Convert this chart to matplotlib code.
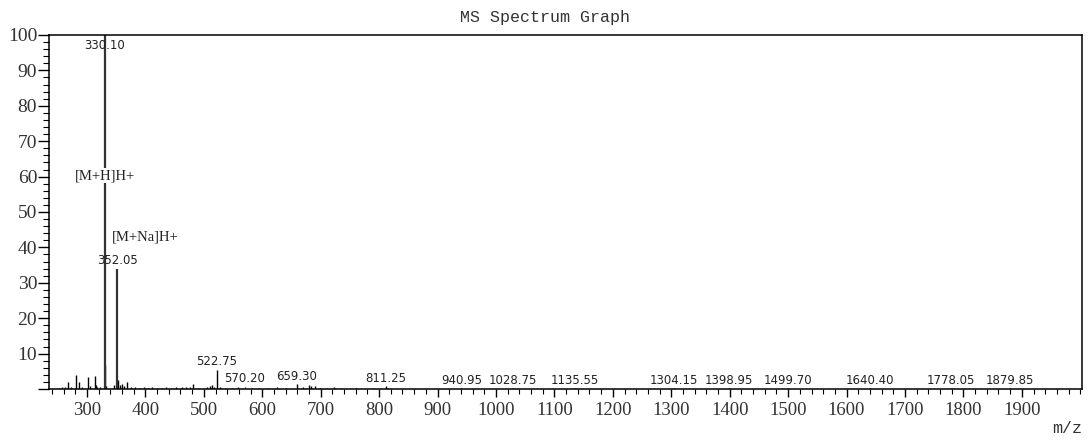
import matplotlib.pyplot as plt
from matplotlib.ticker import MultipleLocator

# main labelled peaks
label_mz = [330.10, 352.05, 522.75, 570.20, 659.30, 811.25, 940.95, 1028.75,
            1135.55, 1304.15, 1398.95, 1499.70, 1640.40, 1778.05, 1879.85]
label_int = [100, 34, 5.5, 0.6, 1.3, 0.8, 0.3, 0.3,
             0.3, 0.3, 0.3, 0.3, 0.3, 0.3, 0.3]

# unlabelled small peaks / noise
small_mz = [252, 258, 262, 267.5, 272, 281, 286, 292, 301, 306, 313, 316, 318, 322,
            331.1, 333, 347, 353.05, 356, 360, 364, 368.5, 375, 382, 390, 398, 405,
            412, 420, 428, 436, 445, 452, 462, 470, 476, 481, 490, 505, 510, 514,
            518, 528, 536, 548, 558, 582, 595, 610, 625, 640, 670, 680, 684, 690,
            698, 710, 722, 735, 760, 790, 815]
small_int = [0.4, 0.5, 0.6, 2.0, 0.6, 4.0, 2.0, 0.6, 3.4, 0.8, 3.7, 1.0, 0.6, 0.5,
             6.8, 0.8, 1.0, 2.6, 1.0, 1.5, 0.8, 2.0, 0.5, 0.5, 0.4, 0.5, 0.4,
             0.5, 0.4, 0.4, 0.5, 0.4, 0.5, 0.5, 0.6, 0.7, 1.3, 0.4, 0.6, 0.9, 1.0,
             0.6, 0.5, 0.4, 0.4, 0.5, 0.4, 0.4, 0.4, 0.5, 0.4, 0.5, 1.0, 0.9, 0.8,
             0.4, 0.4, 0.5, 0.3, 0.3, 0.4, 0.4]

ions = ['[M+H]H+', '[M+Na]H+']
ion_pos = [(330.10, 60.3, 'center'), (343, 43, 'left')]

fig = plt.figure(figsize=(10.91, 4.40), dpi=100)
ax = fig.add_axes([0.0449, 0.1159, 0.9469, 0.8046])

ax.vlines(small_mz, 0, small_int, color='black', lw=1)
ax.vlines(label_mz[:2], 0, label_int[:2], color='#333333', lw=1.6)
ax.vlines(label_mz[2:], 0, label_int[2:], color='black', lw=1)

for mz, h in zip(label_mz, label_int):
    ax.text(mz, min(h + 0.4, 95.3), '%.2f' % mz, ha='center', va='bottom',
            fontsize=8.5, family='DejaVu Sans', color='#222222', zorder=3)

for txt, (x, y, ha) in zip(ions, ion_pos):
    ax.text(x, y, txt, ha=ha, va='center', fontsize=10.5, family='Liberation Serif',
            color='#222222', zorder=4,
            bbox=dict(facecolor='white', edgecolor='none', pad=1))

ax.set_xlim(235, 2003)
ax.set_ylim(0, 100)
ax.xaxis.set_major_locator(MultipleLocator(100))
ax.xaxis.set_minor_locator(MultipleLocator(20))
ax.yaxis.set_major_locator(MultipleLocator(10))
ax.yaxis.set_minor_locator(MultipleLocator(2))
ax.set_xticks(range(300, 2000, 100))
ax.set_yticks(range(0, 101, 10))
ax.set_yticklabels([''] + [str(v) for v in range(10, 101, 10)])

ax.tick_params(axis='y', which='major', length=8, width=1, pad=0.5, labelsize=14)
ax.tick_params(axis='y', which='minor', length=4.5, width=0.8)
ax.tick_params(axis='x', which='major', length=6, width=1, pad=3, labelsize=13.5)
ax.tick_params(axis='x', which='minor', length=3.5, width=0.8)
for lab in ax.get_xticklabels() + ax.get_yticklabels():
    lab.set_family('Liberation Serif')
    lab.set_color('#333333')
for sp in ax.spines.values():
    sp.set_linewidth(1.1)

fig.text(0.5, 0.96, 'MS Spectrum Graph', ha='center', va='center',
         fontsize=12, family='Liberation Mono', color='#333333')
fig.text(1082 / 1091, 1 - 428 / 440, 'm/z', ha='right', va='center',
         fontsize=12, family='Liberation Mono', color='#333333')

fig.savefig('out.png', dpi=100)
